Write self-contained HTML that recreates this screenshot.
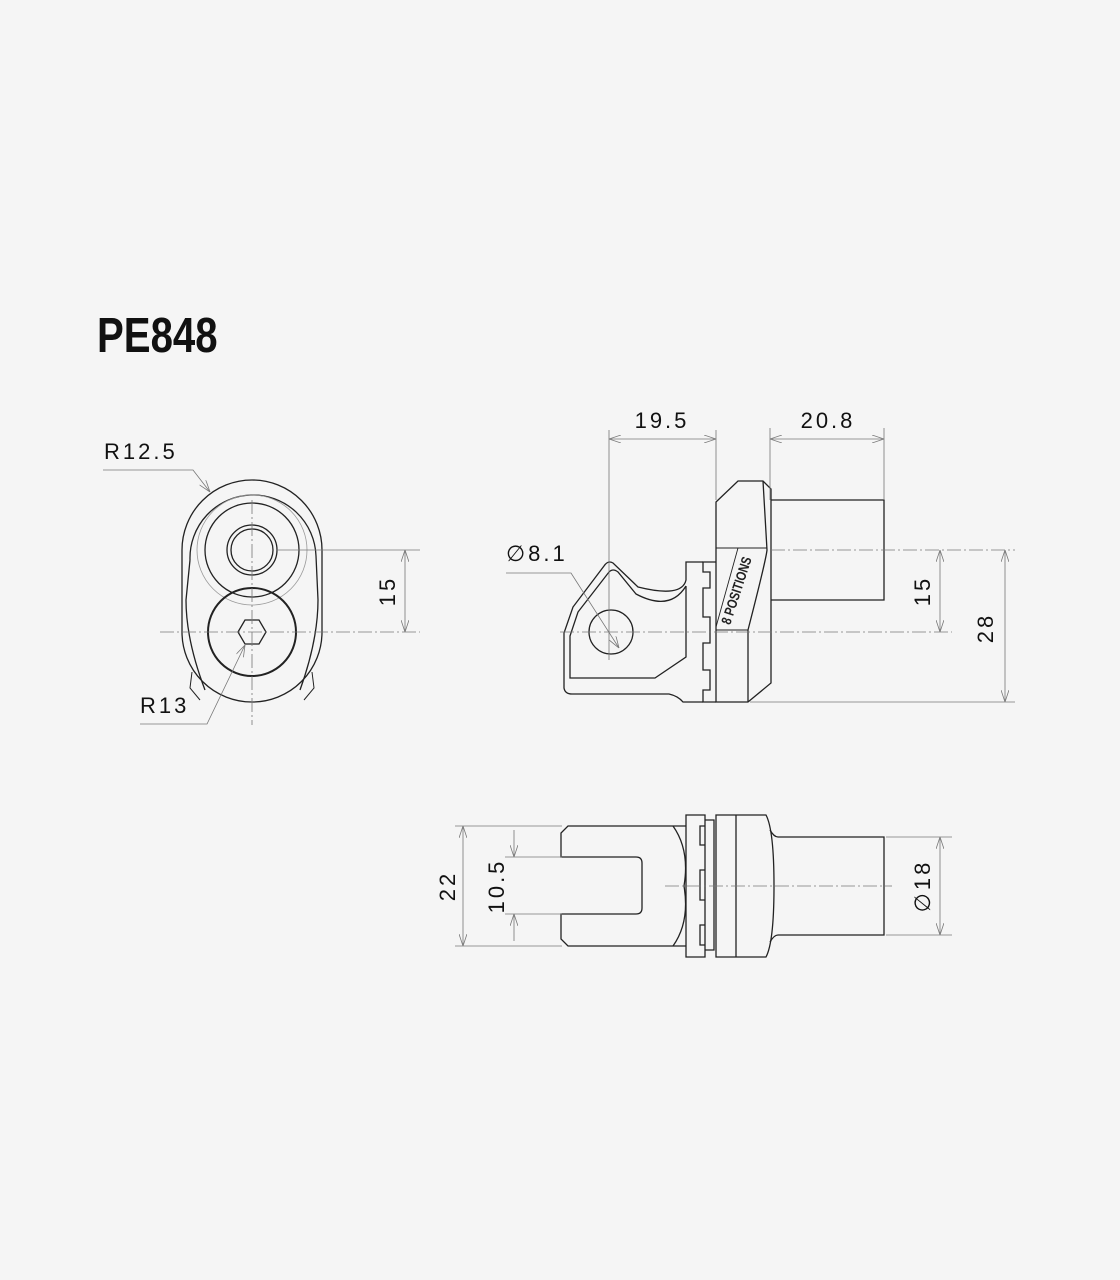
<!DOCTYPE html>
<html><head><meta charset="utf-8"><style>
html,body{margin:0;padding:0;background:#f5f5f5;}
svg{display:block}
.t{font-family:"Liberation Sans",sans-serif;font-size:22px;fill:#111;letter-spacing:3px}
</style></head><body>
<svg width="1120" height="1280" viewBox="0 0 1120 1280" xmlns="http://www.w3.org/2000/svg">
<defs>
<marker id="a" viewBox="0 0 12 8" refX="12" refY="4" markerWidth="12" markerHeight="8" markerUnits="userSpaceOnUse" orient="auto-start-reverse">
<path d="M0,0 L12,4 L0,8" fill="none" stroke="#777" stroke-width="0.8"/></marker>
</defs>
<rect width="1120" height="1280" fill="#f5f5f5"/>
<text transform="translate(97,352) scale(0.82,1)" font-family="'Liberation Sans',sans-serif" font-weight="bold" font-size="49" fill="#111">PE848</text>

<!-- FRONT VIEW -->
<g fill="none" stroke="#222" stroke-width="1.3">
<path d="M182,550 A70,70 0 0 1 322,550 L322,632 A70,70 0 0 1 182,632 Z"/>
<path d="M190,560 A63,63 0 0 1 316,556 L318,600 Q318,640 300,690 M190,560 L186,600 Q186,640 205,690"/>
<circle cx="252" cy="550" r="47"/>
<circle cx="252" cy="550" r="55" stroke="#999" stroke-width="0.8"/>
<circle cx="252" cy="550" r="25"/>
<circle cx="252" cy="550" r="21"/>
<circle cx="252" cy="632" r="44" stroke-width="2"/>
<polygon points="238,632 245,620 259,620 266,632 259,644 245,644"/>
<path d="M192,672 L190,688 L200,700 M312,672 L314,688 L304,700" stroke-width="1"/>
</g>
<g stroke="#777" stroke-width="0.8" fill="none">
<line x1="252" y1="500" x2="252" y2="725" stroke-dasharray="14,3,2,3"/>
<line x1="160" y1="632" x2="420" y2="632" stroke-dasharray="14,3,2,3"/>
<line x1="276" y1="550" x2="420" y2="550"/>
<line x1="405" y1="550" x2="405" y2="632" marker-start="url(#a)" marker-end="url(#a)"/>
<polyline points="103,470 193,470 210,492" marker-end="url(#a)"/>
<polyline points="140,724 207,724 245,645" marker-end="url(#a)"/>
</g>
<text class="t" x="104" y="459">R12.5</text>
<text class="t" x="140" y="713">R13</text>
<text class="t" transform="translate(395,591) rotate(-90)" text-anchor="middle">15</text>

<!-- SIDE VIEW -->
<g fill="none" stroke="#222" stroke-width="1.3">
<path d="M716,502 L738,481 L763,481 L771,489 L771,683 L748,702 L716,702 Z"/>
<path d="M763,481 L767,550 Q766,560 748,630 L748,702"/>
<path d="M716,548 L767,548 M716,630 L748,630 M716,627 L738,548" stroke-width="0.9"/>
<path d="M771,500 L884,500 L884,600 L771,600"/>
<path d="M716,562 L703,562 L703,572 L710,572 L710,588 L703,588 L703,617 L710,617 L710,643 L703,643 L703,670 L710,670 L710,690 L703,690 L703,702 L716,702"/>
<path d="M703,562 L686,562 L686,580 Q682,598 638,587 L613,563 Q608,560 604,566 L573,607 L564,633 L564,688 Q565,694 572,694 L669,694 Q678,696 683,702 L703,702"/>
<path d="M686,586 L686,657 L655,678 L570,678 L570,636 L578,612 L609,572 Q613,568 618,572 L636,594 Q670,612 686,586"/>
<circle cx="611" cy="632" r="22"/>
</g>
<text transform="translate(741,592) rotate(-72) scale(0.8,1)" text-anchor="middle" font-family="'Liberation Sans',sans-serif" font-weight="bold" font-size="14" fill="#222">8 POSITIONS</text>
<g stroke="#777" stroke-width="0.8" fill="none">
<line x1="771" y1="550" x2="1015" y2="550" stroke-dasharray="14,3,2,3"/>
<line x1="560" y1="632" x2="952" y2="632" stroke-dasharray="14,3,2,3"/>
<line x1="750" y1="702" x2="1015" y2="702"/>
<line x1="609" y1="430" x2="609" y2="660"/>
<line x1="716" y1="430" x2="716" y2="500"/>
<line x1="770" y1="428" x2="770" y2="500"/>
<line x1="884" y1="428" x2="884" y2="500"/>
<line x1="609" y1="439" x2="716" y2="439" marker-start="url(#a)" marker-end="url(#a)"/>
<line x1="770" y1="439" x2="884" y2="439" marker-start="url(#a)" marker-end="url(#a)"/>
<line x1="940" y1="550" x2="940" y2="632" marker-start="url(#a)" marker-end="url(#a)"/>
<line x1="1005" y1="550" x2="1005" y2="702" marker-start="url(#a)" marker-end="url(#a)"/>
<polyline points="506,573 571,573 619,648" marker-end="url(#a)"/>
</g>
<text class="t" x="662" y="428" text-anchor="middle">19.5</text>
<text class="t" x="828" y="428" text-anchor="middle">20.8</text>
<text class="t" x="506" y="561">∅8.1</text>
<text class="t" transform="translate(930,591) rotate(-90)" text-anchor="middle">15</text>
<text class="t" transform="translate(993,628) rotate(-90)" text-anchor="middle">28</text>

<!-- BOTTOM VIEW -->
<g fill="none" stroke="#222" stroke-width="1.3">
<path d="M686,826 L568,826 L561,833 L561,857 L636,857 Q642,857 642,863 L642,908 Q642,914 636,914 L561,914 L561,939 L568,946 L686,946"/>
<path d="M673,826 Q690,850 684,886 Q690,922 673,946"/>
<path d="M686,815 L705,815 L705,957 L686,957 Z"/>
<path d="M705,820 L714,820 L714,950 L705,950 M705,826 L700,826 L700,845 L705,845 M705,870 L700,870 L700,900 L705,900 M705,925 L700,925 L700,945 L705,945"/>
<path d="M716,815 L766,815 Q774,830 774,886 Q774,942 766,957 L716,957 Z"/>
<line x1="736" y1="815" x2="736" y2="957"/>
<path d="M770,830 Q774,837 778,837 L884,837 L884,935 L778,935 Q774,935 770,942"/>
</g>
<g stroke="#777" stroke-width="0.8" fill="none">
<line x1="665" y1="886" x2="892" y2="886" stroke-dasharray="14,3,2,3"/>
<line x1="455" y1="826" x2="562" y2="826"/>
<line x1="455" y1="946" x2="562" y2="946"/>
<line x1="505" y1="857" x2="562" y2="857"/>
<line x1="505" y1="914" x2="562" y2="914"/>
<line x1="463" y1="826" x2="463" y2="946" marker-start="url(#a)" marker-end="url(#a)"/>
<line x1="514" y1="830" x2="514" y2="857" marker-end="url(#a)"/>
<line x1="514" y1="941" x2="514" y2="914" marker-end="url(#a)"/>
<line x1="886" y1="837" x2="952" y2="837"/>
<line x1="886" y1="935" x2="952" y2="935"/>
<line x1="940" y1="837" x2="940" y2="935" marker-start="url(#a)" marker-end="url(#a)"/>
</g>
<text class="t" transform="translate(455,886) rotate(-90)" text-anchor="middle">22</text>
<text class="t" transform="translate(504,886) rotate(-90)" text-anchor="middle">10.5</text>
<text class="t" transform="translate(930,886) rotate(-90)" text-anchor="middle">∅18</text>
</svg>
</body></html>
